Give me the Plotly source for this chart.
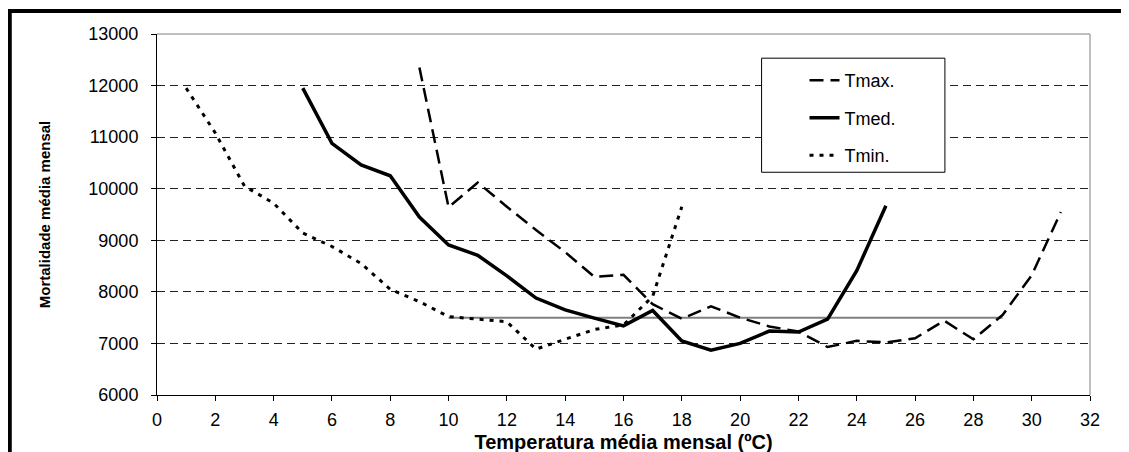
import plotly.graph_objects as go

# --- data ---
x_tmax = list(range(9, 32))
tmax = [12350, 9640, 10120, 9650, 9200, 8770, 8290, 8330, 7760, 7480, 7720, 7500,
        7330, 7230, 6930, 7050, 7020, 7100, 7440, 7080, 7550, 8320, 9550]

x_tmed = list(range(5, 26))
tmed = [11950, 10880, 10460, 10250, 9450, 8910, 8710, 8310, 7880, 7650, 7490, 7340,
        7640, 7050, 6870, 7000, 7240, 7220, 7470, 8410, 9670]

x_tmin = list(range(1, 19))
tmin = [11950, 11080, 10050, 9720, 9140, 8880, 8550, 8050, 7810, 7520, 7470, 7420,
        6890, 7080, 7270, 7360, 7910, 9650]

limiar_x = [10, 29]
limiar_y = [7500, 7500]

x_ticks = list(range(0, 33, 2))
x_ticktext = [str(v) for v in x_ticks]
y_ticks = list(range(6000, 13001, 1000))
y_ticktext = [str(v) for v in y_ticks]

FONT = "Liberation Sans, Arial, sans-serif"

fig = go.Figure()
fig.add_trace(go.Scatter(x=limiar_x, y=limiar_y, mode="lines", showlegend=False,
                         line=dict(color="#808080", width=2)))
fig.add_trace(go.Scatter(x=x_tmax, y=tmax, mode="lines", name="Tmax.", legendgroup="a",
                         line=dict(color="black", width=2.5, dash="14px,7px")))
fig.add_trace(go.Scatter(x=x_tmed, y=tmed, mode="lines", name="Tmed.", legendgroup="b",
                         line=dict(color="black", width=3.5)))
fig.add_trace(go.Scatter(x=x_tmin, y=tmin, mode="lines", name="Tmin.", legendgroup="c",
                         line=dict(color="black", width=3, dash="4px,6px")))

fig.update_layout(
    width=1129, height=452,
    margin=dict(l=149, r=47, t=26, b=65, autoexpand=False),
    paper_bgcolor="white", plot_bgcolor="white",
    font=dict(family=FONT, color="black", size=18),
    showlegend=True,
    legend=dict(x=0.694, y=0.922, xanchor="left", yanchor="top",
                bgcolor="rgba(0,0,0,0)", borderwidth=0,
                font=dict(family=FONT, size=18, color="black"),
                tracegroupgap=11),
    xaxis=dict(range=[0, 32], tickmode="array", tickvals=x_ticks, ticktext=x_ticktext,
               ticks="outside", ticklen=5, tickcolor="black", tickwidth=1,
               showline=True, linecolor="black", linewidth=1,
               showgrid=False, zeroline=False, automargin=False,
               ticklabelstandoff=3,
               tickfont=dict(family=FONT, size=18),
               title=dict(text="<b>Temperatura média mensal (ºC)</b>",
                          font=dict(family=FONT, size=20), standoff=6)),
    yaxis=dict(range=[6000, 13000], tickmode="array", tickvals=y_ticks, ticktext=y_ticktext,
               ticks="outside", ticklen=5, tickcolor="black", tickwidth=1,
               showline=True, linecolor="black", linewidth=1,
               showgrid=True, gridcolor="#222222", gridwidth=1, griddash="8px,5px",
               zeroline=False, automargin=False, ticklabelstandoff=9,
               tickfont=dict(family=FONT, size=18),
               title=dict(text="<b>Mortalidade média mensal</b>",
                          font=dict(family=FONT, size=15), standoff=34)),
    shapes=[
        # grey plot border top & right
        dict(type="line", xref="paper", yref="paper", x0=0, x1=1, y0=1, y1=1,
             line=dict(color="#808080", width=1), layer="above"),
        dict(type="line", xref="paper", yref="paper", x0=1, x1=1, y0=0, y1=1,
             line=dict(color="#808080", width=1), layer="above"),
        # legend box
        dict(type="rect", xref="paper", yref="paper", x0=0.648, x1=0.8445, y0=0.617, y1=0.933,
             line=dict(color="black", width=1), fillcolor="white", layer="above"),
        # outer frame (top and left)
        dict(type="line", xref="paper", yref="paper", x0=-0.16, x1=1.1, y0=1.0637, y1=1.0637,
             line=dict(color="black", width=4), layer="above"),
        dict(type="line", xref="paper", yref="paper", x0=-0.1578, x1=-0.1578, y0=1.068, y1=-0.25,
             line=dict(color="black", width=4), layer="above"),
    ],
)

fig.write_html("out.html")
